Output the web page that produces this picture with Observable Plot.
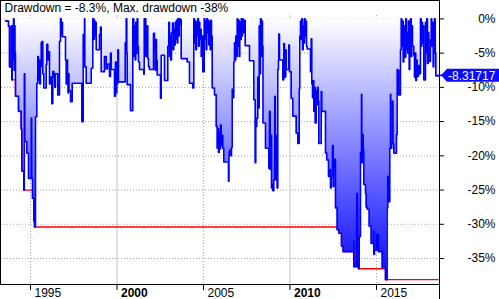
<!DOCTYPE html>
<html><head><meta charset="utf-8">
<script src="https://cdn.jsdelivr.net/npm/d3@7"></script>
<script src="https://cdn.jsdelivr.net/npm/@observablehq/plot@0.6"></script>
<style>body{margin:0;background:#fff} svg{display:block}</style>
</head><body><div id="chart"></div>
<script>
const title = "Drawdown = -8.3%, Max. drawdown -38%";

// Dates as decimal years
const dates = [
1993.555,1993.728,1993.786,1993.884,1993.919,1993.942,1993.977,1994.017,1994.052,1994.087,1994.104,1994.133,1994.306,1994.462,1994.497,1994.613,1994.642,1994.671,1994.786,1994.884,
1995.040,1995.069,1995.116,1995.191,1995.231,1995.289,1995.364,1995.422,1995.462,1995.497,1995.538,1995.578,1995.618,1995.653,1995.711,1995.769,1995.907,1995.942,1996.000,1996.040,
1996.098,1996.156,1996.231,1996.289,1996.358,1996.405,1996.445,1996.578,1996.676,1996.734,1996.774,1996.809,1996.850,1997.023,1997.063,1997.098,1997.139,1997.168,1997.196,1997.225,
1997.312,1997.410,1997.965,1998.046,1998.121,1998.139,1998.220,1998.509,1998.601,1998.659,1998.688,1998.717,1998.757,1998.798,1998.988,1999.046,1999.087,1999.277,1999.376,1999.451,
1999.566,1999.624,1999.665,1999.855,1999.913,1999.954,1999.988,2000.029,2000.046,2000.086,2000.474,2000.532,2000.566,2000.589,2000.780,2000.913,2000.971,2001.011,2001.052,2001.086,
2001.127,2001.167,2001.202,2001.242,2001.300,2001.549,2001.572,2001.601,2001.630,2001.664,2001.705,2001.780,2001.820,2001.878,2002.109,2002.167,2002.208,2002.242,2002.283,2002.323,
2002.514,2002.555,2002.745,2002.936,2002.994,2003.034,2003.075,2003.109,2003.150,2003.208,2003.248,2003.283,2003.323,2003.364,2003.398,2003.439,2003.479,2003.514,2003.554,2003.595,
2003.641,2003.687,2003.710,2004.057,2004.190,2004.381,2004.439,2004.479,2004.520,2004.554,2004.595,2004.635,2004.670,2004.710,2004.751,2004.786,2004.826,2004.867,2004.901,2004.959,
2005.040,2005.075,2005.115,2005.156,2005.190,2005.231,2005.271,2005.306,2005.346,2005.387,2005.421,2005.462,2005.502,2005.635,2005.734,2005.791,2005.826,2005.866,2005.907,2005.942,
2005.982,2006.023,2006.057,2006.115,2006.173,2006.444,2006.473,2006.502,2006.560,2006.618,2006.658,2006.693,2006.751,2006.791,2006.832,2006.866,2006.907,2006.947,2006.982,2007.022,
2007.063,2007.098,2007.138,2007.179,2007.213,2007.254,2007.294,2007.329,2007.410,2007.658,2007.907,2007.988,2008.022,2008.080,2008.138,2008.178,2008.219,2008.254,2008.294,2008.335,
2008.369,2008.410,2008.439,2008.583,2008.774,2008.814,2008.855,2008.889,2008.930,2008.970,2009.005,2009.063,2009.121,2009.144,2009.202,2009.236,2009.259,2009.294,2009.334,2009.352,
2009.392,2009.583,2009.641,2009.681,2009.722,2009.756,2009.779,2009.930,2009.970,2010.068,2010.161,2010.357,2010.450,2010.531,2010.566,2010.606,2010.646,2010.681,2010.722,2010.762,
2010.797,2010.837,2010.878,2010.912,2010.953,2010.993,2011.184,2011.225,2011.259,2011.300,2011.340,2011.375,2011.415,2011.456,2011.514,2011.548,2011.589,2011.629,2011.664,2011.803,
2011.837,2012.051,2012.126,2012.224,2012.300,2012.340,2012.381,2012.456,2012.496,2012.531,2012.571,2012.612,2012.629,2012.727,2012.820,2012.976,2013.074,2013.652,2013.687,2013.860,
2013.901,2013.958,2013.999,2014.074,2014.132,2014.149,2014.172,2014.230,2014.265,2014.363,2014.403,2014.461,2014.577,2014.692,2014.808,2014.843,2014.883,2014.999,2015.039,2015.074,
2015.114,2015.328,2015.519,2015.617,2015.652,2015.692,2015.768,2015.808,2015.825,2015.883,2015.924,2015.953,2015.999,2016.155,2016.195,2016.230,2016.270,2016.288,2016.386,2016.427,
2016.461,2016.502,2016.542,2016.577,2016.617,2016.658,2016.692,2016.733,2016.773,2016.808,2016.848,2016.889,2016.924,2016.964,2017.005,2017.039,2017.080,2017.155,2017.195,2017.236,
2017.270,2017.311,2017.351,2017.386,2017.426,2017.484,2017.542,2017.583,2017.617,2017.658,2017.698,2017.733,2017.831,2017.872,2017.906,2017.947,2017.987,2018.022,2018.120,2018.161,
2018.195,2018.236,2018.276,2018.311,2018.351,2018.392,2018.426,2018.565
];

// Drawdown in percent
const drawdown = [
-0.3,-1.1,-7.0,-1.0,-8.9,-1.0,-6.0,0,-7.5,-1.0,-5.0,-11.3,-13.5,-16.1,-22.2,-25.0,-8.0,-17.9,-19.6,-23.3,
-14.5,-23.3,-26.2,-29.5,-30.4,-14.3,-9.4,-5.5,-9.0,-6.0,-9.5,-7.0,-3.5,-3.3,-8.0,-10.1,-6.7,-3.7,-6.0,-4.8,
-9.5,-8.5,-12.4,-7.7,-8.5,-10.0,-8.0,-11.1,-3.3,0,-2.5,-0.5,-2.6,-6.0,-9.5,-6.0,-8.0,-10.8,-8.0,-10.5,
-12.1,-9.4,-15.0,-2.3,0,-7.0,-9.4,-7.2,0,-3.0,-0.2,-2.5,-0.5,-4.5,-2.3,-1.2,-7.7,-5.5,-7.3,-6.6,
-8.4,-5.0,-7.4,-11.3,-6.3,-10.8,-7.5,-9.5,-4.5,-9.2,-3.5,0,-5.0,-9.6,-13.4,0,-5.5,-1.0,-6.0,-0.5,
-5.0,0,-4.0,-6.3,-7.4,-8.1,0,-4.5,0,-5.5,-1.0,-5.8,-7.0,-7.4,-2.1,-4.5,-7.5,-3.0,-6.0,-8.2,
-11.6,-5.3,-9.0,-4.0,-0.5,-5.5,-2.5,-6.0,-2.0,-0.6,-4.5,-1.5,-3.8,-0.5,-3.0,-0.2,-3.5,0,-2.5,0,
-0.8,-0.1,-5.8,-6.3,-9.4,-10.1,0,-3.5,-0.3,-4.5,-0.5,-2.5,0,-4.0,-0.5,-3.0,-1.5,-5.5,-2.5,-7.7,
0,-3.0,-0.3,-4.5,0,-2.0,-0.2,-3.8,-0.5,-4.5,-0.2,-2.5,-10.1,-11.1,-15.7,-18.9,-16.0,-19.5,-16.5,-19.0,
-15.5,-18.5,-17.0,-18.9,-20.9,-23.7,-19.5,-19.2,-20.0,-18.8,-10.3,-11.5,-6.3,-3.5,-6.0,-2.5,-5.5,0,-4.0,-0.2,
-5.5,-0.5,-3.0,0,-2.5,0,-2.0,-0.2,-3.9,-6.1,-11.8,-21.0,-15.7,-14.5,-8.5,-13.0,-1.0,-8.0,0,-5.5,
-0.3,-4.0,-15.2,-18.9,-21.8,-13.5,-22.0,-17.0,-24.7,-24.2,-25.1,-23.5,-11.3,-23.5,-17.0,-23.5,-24.7,-7.4,-6.0,-2.2,
-6.0,-8.9,-3.6,-6.0,-8.5,-4.5,-7.4,-3.8,-7.7,-11.6,-14.2,-16.7,-18.2,-10.2,-2.5,-0.3,-3.0,0,-4.5,-1.0,
-3.5,0,-2.5,-0.3,-4.0,-4.4,-7.7,-2.9,-9.5,-11.5,-9.0,-13.5,-10.0,-15.2,-10.5,-12.5,-10.0,-12.0,-18.2,-10.6,
-13.5,-19.6,-20.6,-23.0,-22.0,-24.7,-23.0,-18.5,-24.5,-20.5,-22.0,-20.5,-27.6,-30.8,-31.3,-33.2,-34.0,-32.5,-36.2,-25.5,
-36.2,-36.5,-31.8,-19.5,-11.0,-21.0,-16.9,-19.0,-24.2,-25.5,-27.5,-27.8,-30.3,-32.8,-31.0,-34.4,-33.8,-31.5,-33.8,-31.5,
-34.0,-36.4,-38.1,-27.6,-23.0,-26.7,-18.9,-11.0,-18.9,-18.2,-12.0,-18.2,-19.6,-16.9,-7.4,-9.9,-7.5,-11.1,-4.5,0,
-4.0,-0.3,-6.3,-1.0,-4.5,-5.6,0,-4.5,-2.0,-5.0,-0.3,-7.4,-3.0,0,-5.5,-1.0,-4.0,-5.3,-8.5,-5.0,
-9.0,-6.0,-7.0,-8.4,-6.8,-8.0,0,-4.0,-0.5,-3.5,-1.0,-8.9,-0.5,-5.0,0,-6.5,-2.0,-6.2,-3.0,0,
-4.0,-0.5,-7.0,-1.0,0,-5.0,-8.31717,-8.31717
];

const yTicks = [0, -5, -10, -15, -20, -25, -30, -35];
const yTickLabels = ["0%", "-5%", "-10%", "-15%", "-20%", "-25%", "-30%", "-35%"];
const xTicks = [1995, 2000, 2005, 2010, 2015];
const xTickLabels = ["1995", "2000", "2005", "2010", "2015"];
const boldYears = [2000, 2010];
const solidGridYears = [2000, 2010];
const dottedGridYears = [1995, 2005, 2015];

const data = dates.map((d, i) => ({date: d, dd: drawdown[i]}));
let runMin = 0;
for (const r of data) { runMin = Math.min(runMin, r.dd); r.maxdd = runMin; }

const W = 499, H = 299, mT = 15, mB = 15, mL = 1, mR = 60;
const frameW = W - mL - mR, frameH = H - mT - mB;
const xDomain = [1993.324, 2018.642];
const yDomain = [-38.8, 0.5];
const font = "'Liberation Sans', Arial, sans-serif";

const normalTicks = xTicks.map((d, i) => ({d, label: xTickLabels[i]})).filter(t => !boldYears.includes(t.d));
const boldTicks = xTicks.map((d, i) => ({d, label: xTickLabels[i]})).filter(t => boldYears.includes(t.d));
const yLab = yTicks.map((v, i) => ({v, label: yTickLabels[i]}));

const chart = Plot.plot({
  width: W, height: H, marginTop: mT, marginBottom: mB, marginLeft: mL, marginRight: mR,
  x: {domain: xDomain, axis: null},
  y: {domain: yDomain, axis: null},
  style: {fontFamily: font, fontSize: "12px", background: "#fff", color: "#000"},
  marks: [
    Plot.ruleY(yTicks, {stroke: "#a8a8a8", strokeDasharray: "1,2"}),
    Plot.ruleX(dottedGridYears, {stroke: "#a8a8a8", strokeDasharray: "1,2"}),
    Plot.ruleX(solidGridYears, {stroke: "#c4c4c4"}),
    Plot.areaY(data, {x: "date", y1: 0, y2: "dd", curve: "step-after", fill: "url(#ddGrad)"}),
    Plot.line(data, {x: "date", y: "maxdd", curve: "step-after", stroke: "#ff0000", strokeWidth: 1.3}),
    Plot.line(data, {x: "date", y: "dd", curve: "step-after", stroke: "#0000ff", strokeWidth: 1.6}),
    // axes / borders
    Plot.ruleY([yDomain[0]], {stroke: "#000", insetLeft: -1}),
    Plot.ruleX([xDomain[1]], {stroke: "#000", insetTop: -mT, insetBottom: -mB}),
    Plot.ruleX([xDomain[0]], {stroke: "#000", dx: -1, insetTop: -mT}),
    Plot.ruleY([yDomain[1]], {stroke: "#000", dy: -mT, insetLeft: -1}),
    // ticks
    Plot.ruleX(xTicks, {stroke: "#000", insetTop: frameH, insetBottom: -6}),
    Plot.ruleY(yTicks, {stroke: "#000", insetLeft: frameW, insetRight: -5}),
    // labels
    Plot.text(normalTicks, {x: "d", text: "label", frameAnchor: "bottom", textAnchor: "start", lineAnchor: "top", dx: 4, dy: 3.5, fontSize: 12}),
    Plot.text(boldTicks, {x: "d", text: "label", frameAnchor: "bottom", textAnchor: "start", lineAnchor: "top", dx: 4, dy: 3.5, fontSize: 12, fontWeight: "bold"}),
    Plot.text(yLab, {y: "v", text: "label", frameAnchor: "right", textAnchor: "end", dx: 56, fontSize: 12}),
    Plot.text([title], {frameAnchor: "top-left", textAnchor: "start", lineAnchor: "bottom", dx: 3, dy: -3.5, fontSize: 12})
  ]
});

document.getElementById("chart").appendChild(chart);

const svg = d3.select(chart);
const ys = chart.scale("y"), xs = chart.scale("x");
const defs = svg.insert("defs", ":first-child");
const grad = defs.append("linearGradient").attr("id", "ddGrad")
  .attr("gradientUnits", "userSpaceOnUse")
  .attr("x1", 0).attr("x2", 0)
  .attr("y1", ys.apply(0)).attr("y2", ys.apply(yDomain[0]));
grad.append("stop").attr("offset", 0).attr("stop-color", "#ffffff");
grad.append("stop").attr("offset", 1).attr("stop-color", "#0000ff");

// last value marker
const last = data[data.length - 1];
const yL = ys.apply(last.dd), xL = xs.apply(last.date), xA = xs.range[1];
svg.append("line").attr("x1", xL).attr("x2", xA + 3).attr("y1", yL).attr("y2", yL)
  .attr("stroke", "#0000ff").attr("stroke-width", 1.6);
svg.append("path")
  .attr("d", `M${xA + 2},${yL} L${xA + 8},${yL - 6.5} L${W},${yL - 6.5} L${W},${yL + 6.5} L${xA + 8},${yL + 6.5} Z`)
  .attr("fill", "#0a0aff");
svg.append("text").attr("x", xA + 9).attr("y", yL).attr("dy", "0.36em")
  .attr("text-anchor", "start")
  .attr("fill", "#fff").style("font-family", font).style("font-size", "12px")
  .text(String(last.dd));
</script>
</body></html>
